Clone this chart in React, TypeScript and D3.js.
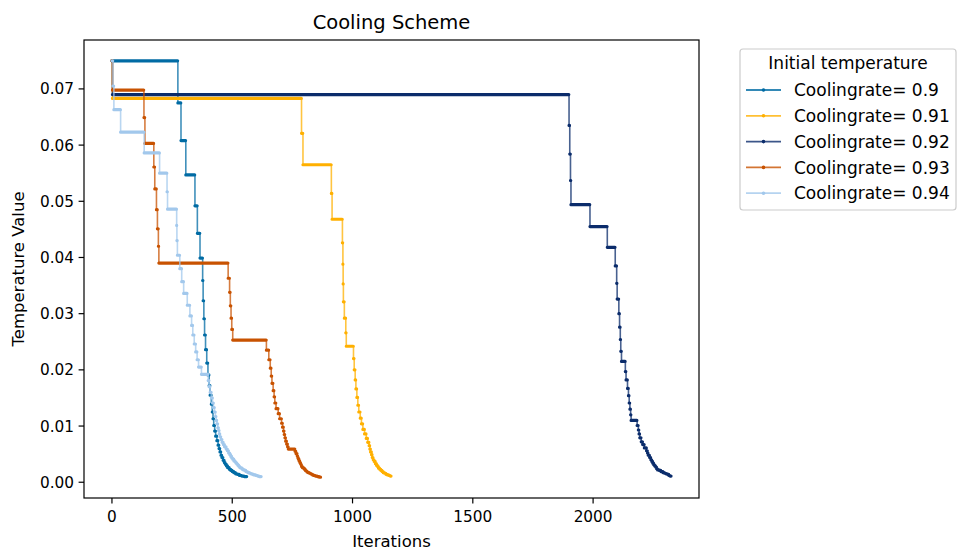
import React, { useEffect } from 'react';
import * as d3 from 'd3';

// cooling rates shown in the legend
const rates = ['0.9', '0.91', '0.92', '0.93', '0.94'];
const colors = ['#006BA4', '#FFB000', '#0B2C6B', '#C85200', '#A2C8EC'];

// iteration at which each temperature level starts, and the level itself
const iters90 = [0, 274, 287, 307, 345, 355, 366, 377, 379, 382, 385, 389, 394, 399, 404, 408, 413, 417, 420, 423, 427, 431, 436, 441, 445, 449, 453, 457, 462, 467, 471, 476, 481, 488, 494, 500, 507, 514, 521, 530, 540, 550];
const temps90 = [0.075, 0.0675, 0.0608, 0.0547, 0.0492, 0.0443, 0.0399, 0.0359, 0.0323, 0.0291, 0.0262, 0.0236, 0.0212, 0.0191, 0.0172, 0.0155, 0.0139, 0.0125, 0.0113, 0.0101, 0.0091, 0.0082, 0.0074, 0.0066, 0.0060, 0.0054, 0.0048, 0.0044, 0.0039, 0.0035, 0.0032, 0.0029, 0.0026, 0.0023, 0.0021, 0.0019, 0.0017, 0.0015, 0.0014, 0.0012, 0.0011, 0.0010];

const iters91 = [0, 2, 788, 794, 912, 915, 958, 960, 961, 962, 966, 972, 974, 1004, 1007, 1011, 1014, 1018, 1022, 1026, 1032, 1037, 1043, 1050, 1057, 1063, 1069, 1072, 1075, 1079, 1082, 1086, 1090, 1095, 1100, 1104, 1108, 1113, 1118, 1123, 1128, 1133, 1139, 1145, 1151, 1157];
const temps91 = [0.075, 0.0683, 0.0621, 0.0565, 0.0514, 0.0468, 0.0426, 0.0388, 0.0353, 0.0321, 0.0292, 0.0266, 0.0242, 0.0220, 0.0200, 0.0182, 0.0166, 0.0151, 0.0137, 0.0125, 0.0114, 0.0104, 0.0094, 0.0086, 0.0078, 0.0071, 0.0065, 0.0059, 0.0054, 0.0049, 0.0044, 0.0040, 0.0037, 0.0033, 0.0030, 0.0028, 0.0025, 0.0023, 0.0021, 0.0019, 0.0017, 0.0016, 0.0014, 0.0013, 0.0012, 0.0011];

const iters92 = [0, 2, 1900, 1903, 1906, 1908, 1987, 2059, 2092, 2098, 2100, 2107, 2110, 2113, 2115, 2118, 2134, 2137, 2143, 2147, 2150, 2153, 2156, 2158, 2183, 2188, 2191, 2194, 2200, 2206, 2213, 2222, 2226, 2229, 2235, 2240, 2244, 2248, 2252, 2256, 2260, 2264, 2268, 2275, 2282, 2291, 2297, 2303, 2309, 2315, 2320];
const temps92 = [0.075, 0.0690, 0.0635, 0.0584, 0.0537, 0.0494, 0.0455, 0.0418, 0.0385, 0.0354, 0.0326, 0.0300, 0.0276, 0.0254, 0.0233, 0.0215, 0.0197, 0.0182, 0.0167, 0.0154, 0.0141, 0.0130, 0.0120, 0.0110, 0.0101, 0.0093, 0.0086, 0.0079, 0.0072, 0.0067, 0.0061, 0.0056, 0.0052, 0.0048, 0.0044, 0.0040, 0.0037, 0.0034, 0.0031, 0.0029, 0.0027, 0.0024, 0.0022, 0.0021, 0.0019, 0.0017, 0.0016, 0.0015, 0.0014, 0.0012, 0.0011];

const iters93 = [0, 2, 133, 137, 174, 178, 185, 189, 193, 195, 483, 489, 492, 495, 498, 502, 642, 652, 658, 662, 665, 670, 674, 677, 682, 691, 697, 705, 709, 713, 716, 719, 722, 726, 730, 733, 761, 765, 770, 772, 775, 778, 781, 784, 786, 788, 792, 796, 800, 804, 807, 811, 816, 821, 826, 830, 834, 838, 846, 854, 862];
const temps93 = [0.075, 0.0698, 0.0649, 0.0603, 0.0561, 0.0522, 0.0485, 0.0451, 0.0420, 0.0390, 0.0363, 0.0338, 0.0314, 0.0292, 0.0272, 0.0253, 0.0235, 0.0218, 0.0203, 0.0189, 0.0176, 0.0163, 0.0152, 0.0141, 0.0131, 0.0122, 0.0113, 0.0105, 0.0098, 0.0091, 0.0085, 0.0079, 0.0073, 0.0068, 0.0063, 0.0059, 0.0055, 0.0051, 0.0047, 0.0044, 0.0041, 0.0038, 0.0035, 0.0033, 0.0031, 0.0028, 0.0026, 0.0025, 0.0023, 0.0021, 0.0020, 0.0018, 0.0017, 0.0016, 0.0015, 0.0014, 0.0013, 0.0012, 0.0011, 0.0010, 0.0009];

const iters94 = [0, 4, 8, 36, 134, 198, 229, 231, 269, 270, 272, 282, 290, 298, 313, 324, 331, 336, 342, 348, 354, 360, 372, 400, 404, 408, 413, 418, 422, 426, 430, 433, 436, 440, 443, 446, 449, 453, 458, 463, 468, 475, 480, 485, 490, 494, 498, 502, 507, 512, 516, 520, 524, 528, 532, 537, 542, 547, 552, 557, 562, 567, 572, 578, 584, 590, 598, 606, 612];
const temps94 = [0.075, 0.0705, 0.0663, 0.0623, 0.0586, 0.0550, 0.0517, 0.0486, 0.0457, 0.0430, 0.0404, 0.0380, 0.0357, 0.0336, 0.0315, 0.0296, 0.0279, 0.0262, 0.0246, 0.0232, 0.0218, 0.0205, 0.0192, 0.0181, 0.0170, 0.0160, 0.0150, 0.0141, 0.0133, 0.0125, 0.0117, 0.0110, 0.0104, 0.0097, 0.0092, 0.0086, 0.0081, 0.0076, 0.0071, 0.0067, 0.0063, 0.0059, 0.0056, 0.0052, 0.0049, 0.0046, 0.0043, 0.0041, 0.0038, 0.0036, 0.0034, 0.0032, 0.0030, 0.0028, 0.0026, 0.0025, 0.0023, 0.0022, 0.0021, 0.0019, 0.0018, 0.0017, 0.0016, 0.0015, 0.0014, 0.0013, 0.0012, 0.0011, 0.0010];

// last iteration of each run
const lastIter = [560, 1160, 2324, 867, 620];

const xTicks = [0, 500, 1000, 1500, 2000];
const yTicks = [0, 0.01, 0.02, 0.03, 0.04, 0.05, 0.06, 0.07];

const iters = [iters90, iters91, iters92, iters93, iters94];
const temps = [temps90, temps91, temps92, temps93, temps94];

const W = 957;
const H = 552;
const left = 84, right = 699, top = 40, bottom = 498;
const font = 'DejaVu Sans, sans-serif';

export default function App() {
  useEffect(() => {
    document.body.style.margin = '0';
  }, []);

  const allT = temps.flat();
  const tMin = d3.min(allT) as number;
  const tMax = d3.max(allT) as number;
  const xMax = d3.max(lastIter) as number;
  const x = d3.scaleLinear().domain([-0.05 * xMax, 1.05 * xMax]).range([left, right]);
  const tPad = 0.05 * (tMax - tMin);
  const y = d3.scaleLinear().domain([tMin - tPad, tMax + tPad]).range([bottom, top]);

  const line = d3.line<[number, number]>()
    .curve(d3.curveStepAfter)
    .x(d => x(d[0]))
    .y(d => y(d[1]));

  const series = rates.map((r, i) => {
    const its = iters[i];
    const ts = temps[i];
    const pts: [number, number][] = its.map((it, j) => [it, ts[j]]);
    pts.push([lastIter[i], ts[ts.length - 1]]);
    // dense markers along each level make it look thick
    const runs = its.map((it, j) => {
      const next = j < its.length - 1 ? its[j + 1] : lastIter[i] + 1;
      const end = Math.max(it, next - 1);
      const yy = y(ts[j]);
      return `M${x(it)},${yy}L${x(end)},${yy}`;
    }).join('');
    return { r, color: colors[i], d: line(pts) as string, runs };
  });

  return (
    <svg width={W} height={H} style={{ display: 'block', background: '#fff' }} fontFamily={font}>
      <rect x={0} y={0} width={W} height={H} fill="#fff" />
      <text x={(left + right) / 2} y={29} textAnchor="middle" fontSize={19.5} fill="#000">Cooling Scheme</text>

      {series.map(s => (
        <g key={s.r}>
          <path d={s.d} fill="none" stroke={s.color} strokeWidth={1.6} strokeOpacity={0.75} />
          <path d={s.runs} fill="none" stroke={s.color} strokeWidth={3.2} strokeLinecap="round" />
        </g>
      ))}

      <rect x={left} y={top} width={right - left} height={bottom - top} fill="none" stroke="#000" strokeWidth={1.2} />

      {xTicks.map(t => (
        <g key={t} transform={`translate(${x(t)},${bottom})`}>
          <line y2={5.4} stroke="#000" strokeWidth={1.2} />
          <text y={24} textAnchor="middle" fontSize={15.3} fill="#000">{t}</text>
        </g>
      ))}
      {yTicks.map(t => (
        <g key={t} transform={`translate(${left},${y(t)})`}>
          <line x2={-5.4} stroke="#000" strokeWidth={1.2} />
          <text x={-10} dy="0.36em" textAnchor="end" fontSize={15.3} fill="#000">{d3.format('.2f')(t)}</text>
        </g>
      ))}

      <text x={(left + right) / 2} y={547} textAnchor="middle" fontSize={16.5} fill="#000">Iterations</text>
      <text transform={`translate(24,${(top + bottom) / 2}) rotate(-90)`} textAnchor="middle" fontSize={16.5} fill="#000">Temperature Value</text>

      <g>
        <rect x={740} y={49} width={216} height={161} rx={3} fill="#fff" fillOpacity={0.8} stroke="#ccc" strokeWidth={1.2} />
        <text x={848} y={69} textAnchor="middle" fontSize={17} fill="#000">Initial temperature</text>
        {series.map((s, i) => {
          const cy = 90 + i * 25.8;
          return (
            <g key={s.r}>
              <line x1={746} x2={781} y1={cy} y2={cy} stroke={s.color} strokeWidth={1.8} strokeOpacity={0.8} />
              <circle cx={763.5} cy={cy} r={1.8} fill={s.color} />
              <text x={794} y={cy} dy="0.36em" fontSize={17} fill="#000">{`Coolingrate= ${s.r}`}</text>
            </g>
          );
        })}
      </g>
    </svg>
  );
}
